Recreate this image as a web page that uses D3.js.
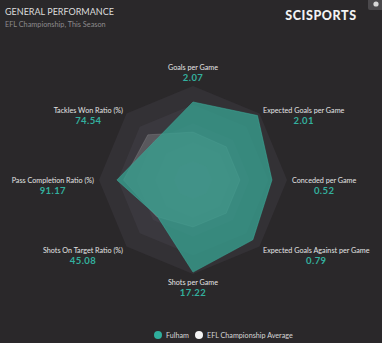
<!DOCTYPE html>
<meta charset="utf-8">
<style>
body { margin: 0; background: #2a282a; }
text { font-family: Lato, "Open Sans", sans-serif; }
</style>
<svg width="382" height="343"></svg>
<script src="https://cdn.jsdelivr.net/npm/d3@7"></script>
<script>
var axes = ["Goals per Game", "Expected Goals per Game", "Conceded per Game",
            "Expected Goals Against per Game", "Shots per Game", "Shots On Target Ratio (%)",
            "Pass Completion Ratio (%)", "Tackles Won Ratio (%)"];
var fulhamValues = ["2.07", "2.01", "0.52", "0.79", "17.22", "45.08", "91.17", "74.54"];
// relative score on each axis (0 = centre, 1 = outer ring)
var fulhamScore = [0.83, 0.97, 0.84, 0.9, 0.98, 0.54, 0.81, 0.58];
var averageScore = [0.51, 0.5, 0.5, 0.5, 0.5, 0.55, 0.74, 0.68];
var ringLevels = [1, 0.8, 0.6, 0.4, 0.2];
var legendItems = ["Fulham", "EFL Championship Average"];

var svg = d3.select("svg"),
    cx = 193, cy = 180, R = 94;

svg.append("rect").attr("width", 382).attr("height", 343).attr("fill", "#2a282a");

// header
svg.append("text").attr("x", 5).attr("y", 15)
    .attr("fill", "#dcdcdc").style("font-size", "9px")
    .text("GENERAL PERFORMANCE");
svg.append("text").attr("x", 5).attr("y", 27)
    .attr("fill", "#8c8a8c").style("font-size", "7.3px")
    .text("EFL Championship, This Season");
svg.append("text").attr("x", 321).attr("y", 20).attr("text-anchor", "middle")
    .attr("fill", "#f2f2f2").style("font-size", "12.5px").style("font-weight", 900)
    .style("letter-spacing", "0.6px")
    .text("SCISPORTS");
svg.append("rect").attr("x", 368).attr("y", -3).attr("width", 16).attr("height", 13)
    .attr("rx", 2).attr("fill", "#4a484b");
svg.append("circle").attr("cx", 376).attr("cy", 4).attr("r", 2.6).attr("fill", "#d8d8d8");

var angle = d3.scaleLinear().domain([0, axes.length]).range([0, 2 * Math.PI]);
var r = d3.scaleLinear().domain([0, 1]).range([0, R]);

var radar = d3.lineRadial()
    .angle(function(d, i) { return angle(i); })
    .radius(function(d) { return r(d); })
    .curve(d3.curveLinearClosed);

var g = svg.append("g").attr("transform", "translate(" + cx + "," + cy + ")");

// grid rings
g.selectAll(".ring")
    .data(ringLevels)
  .enter().append("path")
    .attr("class", "ring")
    .attr("d", function(lv) { return radar(axes.map(function() { return lv; })); })
    .attr("fill", "#5a5462")
    .attr("fill-opacity", 0.2);

// average
g.append("path")
    .datum(averageScore)
    .attr("d", radar)
    .attr("fill", "#ffffff")
    .attr("fill-opacity", 0.16)
    .attr("stroke", "#ffffff")
    .attr("stroke-opacity", 0.12)
    .attr("stroke-width", 1);

// Fulham
g.append("path")
    .datum(fulhamScore)
    .attr("d", radar)
    .attr("fill", "#37a08f")
    .attr("fill-opacity", 0.78)
    .attr("stroke", "#3cb09e")
    .attr("stroke-opacity", 0.5)
    .attr("stroke-width", 1);

// axis labels
var labelR = R + 5;
axes.forEach(function(name, i) {
  var a = angle(i),
      s = Math.sin(a), c = -Math.cos(a),
      ax = labelR * s, ay = labelR * c;
  if (Math.abs(s) < 1e-6) s = 0;
  var lab = g.append("text")
      .attr("fill", "#e4e4e4").style("font-size", "7.2px")
      .attr("text-anchor", "middle")
      .text(name);
  var w = lab.node().getComputedTextLength();
  var x = ax + (s > 0 ? w / 2 : s < 0 ? -w / 2 : 0);
  var ly;
  if (s === 0 && c < 0) ly = ay - 11;        // top
  else if (s === 0) ly = ay + 6;             // bottom
  else ly = ay + 2.5;
  lab.attr("x", x).attr("y", ly);
  g.append("text")
      .attr("x", x).attr("y", ly + 11)
      .attr("text-anchor", "middle")
      .attr("fill", "#33b09e").style("font-size", "9.5px").style("font-weight", 700)
      .style("letter-spacing", "0.4px")
      .text(fulhamValues[i]);
});

// legend
var legend = svg.append("g").attr("transform", "translate(158,335)");
legend.append("circle").attr("r", 4).attr("fill", "#2fae9c");
legend.append("text").attr("x", 8).attr("y", 2.6)
    .attr("fill", "#d6d6d6").style("font-size", "7.2px").text(legendItems[0]);
legend.append("circle").attr("cx", 41).attr("r", 4).attr("fill", "#f4f4f4");
legend.append("text").attr("x", 49).attr("y", 2.6)
    .attr("fill", "#d6d6d6").style("font-size", "7.2px").text(legendItems[1]);
</script>
